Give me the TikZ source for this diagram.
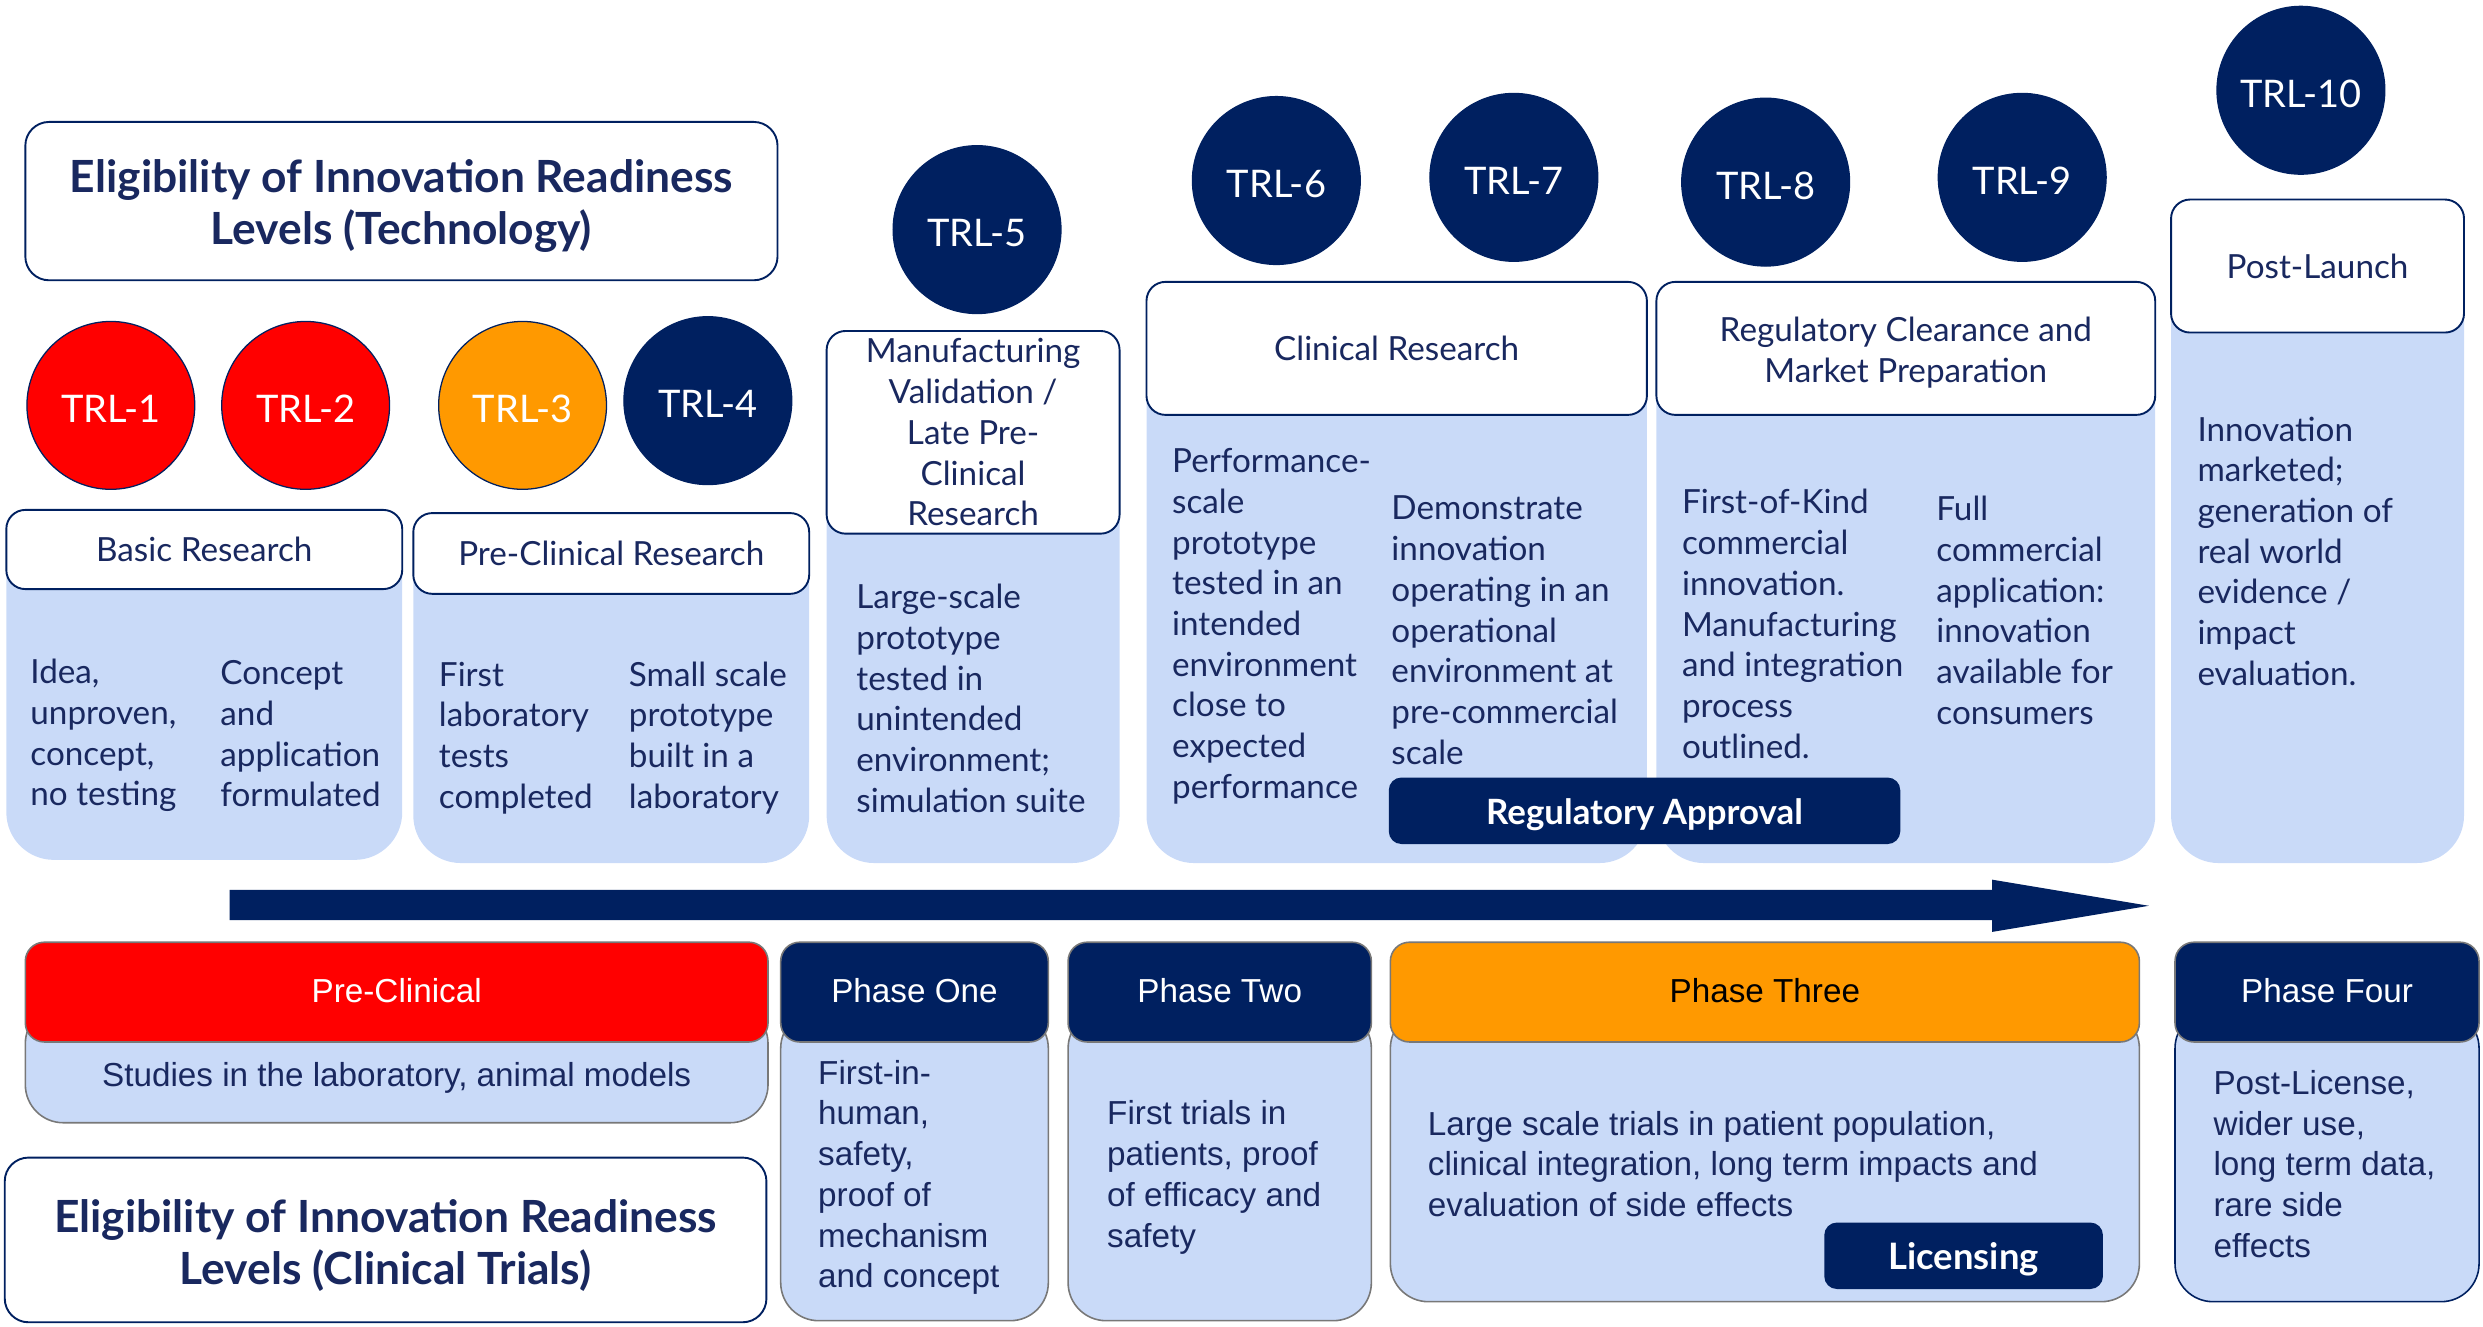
\documentclass[tikz,border=0pt]{standalone}
\usepackage{fontspec}
\setmainfont{Lato}
\newfontfamily\arialf{Liberation Sans}
\definecolor{navy}{RGB}{0,32,96}
\definecolor{tnavy}{RGB}{25,40,95}
\definecolor{lblue}{RGB}{201,218,248}
\definecolor{tred}{RGB}{255,0,0}
\definecolor{torange}{RGB}{255,153,0}
\definecolor{gborder}{RGB}{120,120,120}
\tikzset{
 hdrbox/.style={draw=navy, line width=1.2pt, fill=white, rounded corners=12pt, inner sep=0pt, text=tnavy, font=\fontsize{21}{25.7}\selectfont, align=center},
 bodybox/.style={fill=lblue, rounded corners=30pt, inner sep=0pt},
 trl/.style={circle, draw=navy, line width=0.8pt, minimum size=106pt, inner sep=0pt, text=white, text height=21.5pt, text depth=0pt, font=\fontsize{24}{28}\selectfont},
 btxt/.style={anchor=west, inner sep=0pt, align=left, text=tnavy, font=\fontsize{21}{25.7}\selectfont},
 ttlbox/.style={draw=navy, line width=1.2pt, fill=white, rounded corners=15pt, inner sep=0pt},
 ttltxt/.style={inner sep=0pt, text=tnavy, align=center, font=\bfseries\fontsize{28}{33}\selectfont},
 tagbox/.style={fill=navy, rounded corners=8pt, inner sep=0pt, text=white, text height=21.5pt, text depth=4.5pt, font=\bfseries\fontsize{22}{26}\selectfont},
 phead/.style={draw=gborder, line width=1pt, rounded corners=12pt, inner sep=0pt, minimum height=63pt, text height=17pt, text depth=4.5pt, font=\arialf\fontsize{21}{25}\selectfont},
 pbody/.style={draw=gborder, line width=1pt, fill=lblue, rounded corners=24pt, inner sep=0pt},
 ptxt/.style={anchor=west, inner sep=0pt, align=left, text=tnavy, font=\arialf\fontsize{21}{25.7}\selectfont},
}
\begin{document}
\begin{tikzpicture}[x=1pt,y=-1pt]
\useasboundingbox (0,0) rectangle (1568,837.4);
% top title
\node[ttlbox, minimum width=475pt, minimum height=100pt] (tt) at (253.5,127) {};
\node[ttltxt] (ttx) at (253.5,130) {Eligibility of Innovation Readiness\\Levels (Technology)};
% bodies
\node[bodybox, minimum width=250pt, minimum height=221pt] (b1) at (129,432.5) {};
\node[bodybox, minimum width=250pt, minimum height=221pt] (b2) at (386,434.5) {};
\node[bodybox, minimum width=185pt, minimum height=336pt] (b3) at (614.5,377) {};
\node[bodybox, minimum width=316pt, minimum height=367pt] (b4) at (882,361.5) {};
\node[bodybox, minimum width=315pt, minimum height=367pt] (b5) at (1203.5,361.5) {};
\node[bodybox, minimum width=185pt, minimum height=419pt] (b6) at (1463.5,335.5) {};
% headers
\node[hdrbox, minimum width=250pt, minimum height=50pt] (h1) at (129,347) {Basic Research};
\node[hdrbox, minimum width=250pt, minimum height=51pt] (h2) at (386,349.5) {Pre-Clinical Research};
\node[hdrbox, minimum width=185pt, minimum height=128pt] (h3) at (614.5,273) {Manufacturing\\Validation /\\Late Pre-\\Clinical\\Research};
\node[hdrbox, minimum width=316pt, minimum height=84pt] (h4) at (882,220) {Clinical Research};
\node[hdrbox, minimum width=315pt, minimum height=84pt] (h5) at (1203.5,220) {};
\node[hdrbox, draw=none, fill=none] (h5x) at (1203.5,222.5) {Regulatory Clearance and\\Market Preparation};
\node[hdrbox, minimum width=185pt, minimum height=84pt] (h6) at (1463.5,168) {Post-Launch};
% circles
\node[trl, fill=tred] (c1) at (70,256) {TRL-1};
\node[trl, fill=tred] (c2) at (193,256) {TRL-2};
\node[trl, fill=torange] (c3) at (330,256) {TRL-3};
\node[trl, fill=navy] (c4) at (447,253) {TRL-4};
\node[trl, fill=navy] (c5) at (617,145) {TRL-5};
\node[trl, fill=navy] (c6) at (806,114) {TRL-6};
\node[trl, fill=navy] (c7) at (956,112) {TRL-7};
\node[trl, fill=navy] (c8) at (1115,115) {TRL-8};
\node[trl, fill=navy] (c9) at (1277,112) {TRL-9};
\node[trl, fill=navy] (c10) at (1453,57) {TRL-10};
% body texts
\node[btxt] (t1a) at (19,464.5) {Idea,\\unproven,\\concept,\\no testing};
\node[btxt] (t1b) at (139,463.5) {Concept\\and\\application\\formulated};
\node[btxt] (t2a) at (277,466) {First\\laboratory\\tests\\completed};
\node[btxt] (t2b) at (397,466) {Small scale\\prototype\\built in a\\laboratory};
\node[btxt] (t3) at (540.6,441) {Large-scale\\prototype\\tested in\\unintended\\environment;\\simulation suite};
\node[btxt] (t4a) at (740,395.5) {Performance-\\scale\\prototype\\tested in an\\intended\\environment\\close to\\expected\\performance};
\node[btxt] (t4b) at (878.5,398) {Demonstrate\\innovation\\operating in an\\operational\\environment at\\pre-commercial\\scale};
\node[btxt] (t5a) at (1062,394) {First-of-Kind\\commercial\\innovation.\\Manufacturing\\and integration\\process\\outlined.};
\node[btxt] (t5b) at (1222.6,385.5) {Full\\commercial\\application:\\innovation\\available for\\consumers};
\node[btxt] (t6) at (1387.5,348) {Innovation\\marketed;\\generation of\\real world\\evidence /\\impact\\evaluation.};
% regulatory approval
\node[tagbox, minimum width=323pt, minimum height=42pt] (ra) at (1038.5,512) {Regulatory Approval};
% arrow
\fill[navy] (145,562) -- (1258,562) -- (1258,555.5) -- (1357,572) -- (1258,588.5) -- (1258,581) -- (145,581) -- cycle;
% bottom row
\node[pbody, minimum width=469pt, minimum height=74pt] (pb0) at (250.5,672) {};
\node[phead, fill=tred, text=white, minimum width=469pt] (ph0) at (250.5,626.5) {Pre-Clinical};
\node[ptxt, anchor=center] (pt0) at (250.5,680.5) {Studies in the laboratory, animal models};
\node[pbody, minimum width=169pt, minimum height=196pt] (pb1) at (577.5,736) {};
\node[phead, fill=navy, text=white, minimum width=169pt] (ph1) at (577.5,626.5) {Phase One};
\node[ptxt] (pt1) at (516.5,743.5) {First-in-\\human,\\safety,\\proof of\\mechanism\\and concept};
\node[pbody, minimum width=191.5pt, minimum height=196pt] (pb2) at (770.25,736) {};
\node[phead, fill=navy, text=white, minimum width=191.5pt] (ph2) at (770.25,626.5) {Phase Two};
\node[ptxt] (pt2) at (699,743.5) {First trials in\\patients, proof\\of efficacy and\\safety};
\node[pbody, minimum width=473pt, minimum height=184pt] (pb3) at (1114.5,730) {};
\node[phead, fill=torange, text=black, minimum width=473pt] (ph3) at (1114.5,626.5) {Phase Three};
\node[ptxt] (pt3) at (901.5,735) {Large scale trials in patient population,\\clinical integration, long term impacts and\\evaluation of side effects};
\node[tagbox, minimum width=176pt, minimum height=42pt, text height=22.3pt, text depth=4.7pt, font=\bfseries\fontsize{23}{27}\selectfont] (lic) at (1240,793) {Licensing};
\node[pbody, draw=navy, minimum width=192pt, minimum height=184pt] (pb4) at (1469.5,730) {};
\node[phead, fill=navy, text=white, minimum width=192pt] (ph4) at (1469.5,626.5) {Phase Four};
\node[ptxt] (pt4) at (1397.6,735) {Post-License,\\wider use,\\long term data,\\rare side\\effects};
% bottom title
\node[ttlbox, minimum width=481pt, minimum height=104pt] (tb) at (243.5,783) {};
\node[ttltxt] (tbx) at (243.5,786.5) {Eligibility of Innovation Readiness\\Levels (Clinical Trials)};
\end{tikzpicture}
\end{document}
